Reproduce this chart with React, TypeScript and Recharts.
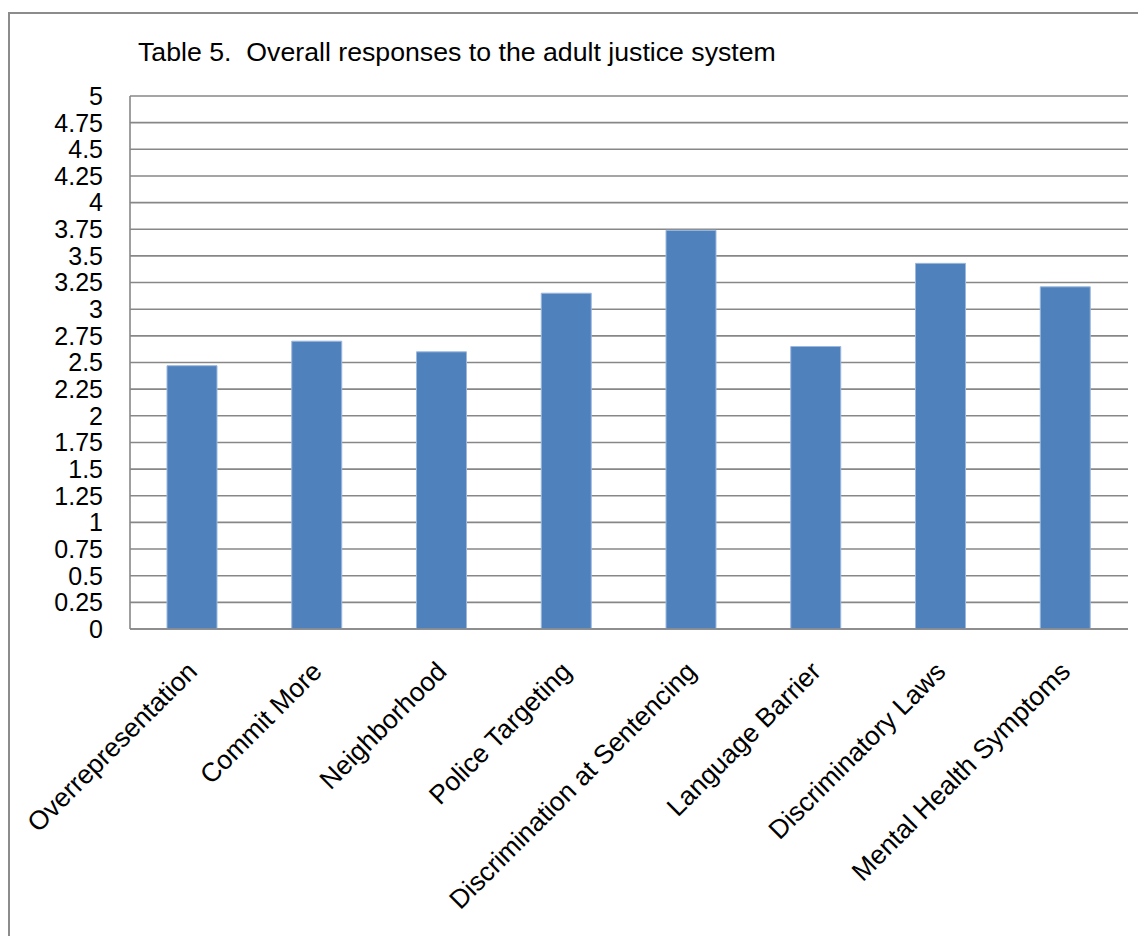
import { BarChart, Bar, XAxis, YAxis, CartesianGrid } from 'recharts'

const categories = [
  'Overrepresentation',
  'Commit More',
  'Neighborhood',
  'Police Targeting',
  'Discrimination at Sentencing',
  'Language Barrier',
  'Discriminatory Laws',
  'Mental Health Symptoms'
]
const scores = [2.47, 2.7, 2.6, 3.15, 3.74, 2.65, 3.43, 3.21]
const yTicks = [0, 0.25, 0.5, 0.75, 1, 1.25, 1.5, 1.75, 2, 2.25, 2.5, 2.75, 3, 3.25, 3.5, 3.75, 4, 4.25, 4.5, 4.75, 5]

const data = categories.map((name, i) => ({ name, score: scores[i] }))

const FONT = '"Liberation Sans", Arial, sans-serif'

function AngledTick(props: any) {
  const { x, y, payload } = props
  return (
    <g transform={`translate(${x},${y})`}>
      <text
        x={0}
        y={0}
        dx={-21}
        dy={30}
        textAnchor="end"
        transform="rotate(-45)"
        fontFamily={FONT}
        fontSize={26.5}
        fill="#000"
      >
        {payload.value}
      </text>
    </g>
  )
}

export default function App() {
  return (
    <div style={{ position: 'relative', width: 1138, height: 928, overflow: 'hidden', background: '#fff' }}>
      <div
        style={{
          position: 'absolute',
          left: 0,
          top: 4,
          width: 1300,
          height: 1100,
          borderLeft: '2px solid #8c8c8c',
          borderTop: '2px solid #8c8c8c'
        }}
      />
      <div
        style={{
          position: 'absolute',
          left: 130,
          top: 29,
          fontFamily: FONT,
          fontSize: 26.7,
          whiteSpace: 'pre',
          color: '#000'
        }}
      >
        {'Table 5.  Overall responses to the adult justice system'}
      </div>
      <div style={{ position: 'absolute', left: 0, top: 0 }}>
        <BarChart
          width={1138}
          height={928}
          data={data}
          margin={{ top: 88, right: 18, bottom: 0, left: 0 }}
          barSize={50}
        >
          <CartesianGrid vertical={false} stroke="#878787" strokeWidth={1.6} />
          <XAxis
            dataKey="name"
            interval={0}
            height={307}
            tick={<AngledTick />}
            tickLine={false}
            axisLine={{ stroke: '#878787', strokeWidth: 1.6 }}
          />
          <YAxis
            width={122}
            domain={[0, 5]}
            ticks={yTicks}
            interval={0}
            tickLine={false}
            tickSize={8}
            tickMargin={19}
            axisLine={{ stroke: '#878787', strokeWidth: 1.6 }}
            tick={{ fill: '#000', fontSize: 25, fontFamily: FONT }}
          />
          <Bar dataKey="score" fill="#4f81bd" stroke="#9cb9dd" strokeWidth={1} isAnimationActive={false} />
        </BarChart>
      </div>
    </div>
  )
}
